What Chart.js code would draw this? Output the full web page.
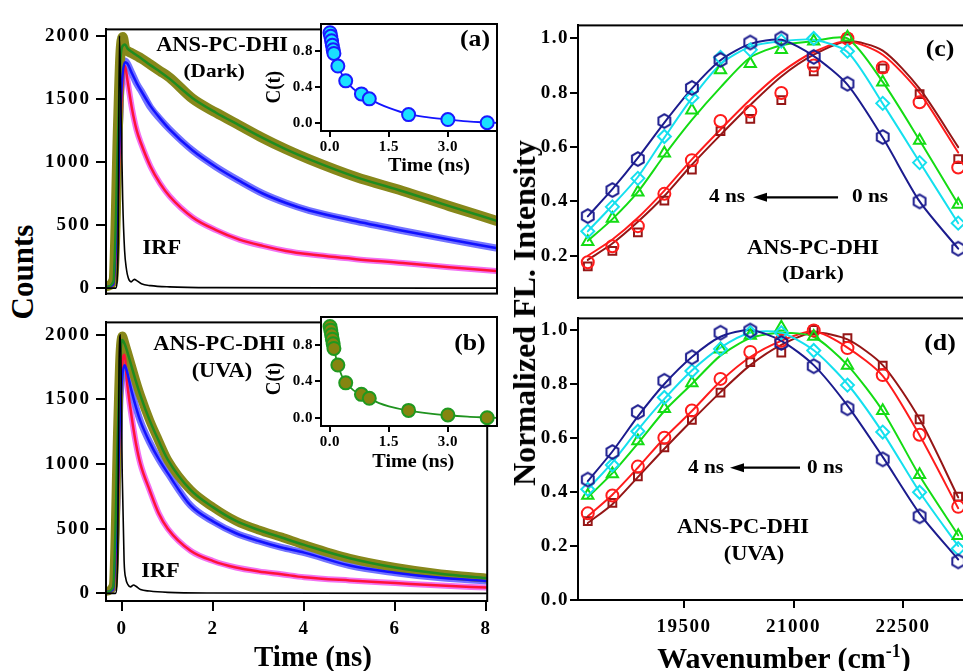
<!DOCTYPE html>
<html><head><meta charset="utf-8">
<script src="https://cdn.jsdelivr.net/npm/chart.js@4.4.1/dist/chart.umd.min.js"></script>
<style>
html,body{margin:0;padding:0;background:#fff;}
body{width:963px;height:671px;overflow:hidden;position:relative;}
canvas{position:absolute;}
.t{position:absolute;font-family:"Liberation Serif","Times New Roman",serif;font-weight:bold;color:#000;white-space:nowrap;line-height:1;transform:translate(-50%,-50%);}
.rot{transform:translate(-50%,-50%) rotate(-90deg);}
</style></head>
<body>
<canvas id="cA"></canvas><canvas id="cB"></canvas><canvas id="cC"></canvas><canvas id="cD"></canvas><canvas id="cIA"></canvas><canvas id="cIB"></canvas>
<div class="t rot" style="left:22px;top:272px;font-size:31px;">Counts</div>
<div class="t" style="left:313px;top:656px;font-size:29px;">Time (ns)</div>
<div class="t rot" style="left:524px;top:313px;font-size:32px;">Normalized FL. Intensity</div>
<div class="t" style="left:784px;top:657px;font-size:30px;">Wavenumber (cm<sup style="font-size:18px;">-1</sup>)</div>
<script>
// ---------------- data ----------------
const decayTime = [-0.36, -0.2, -0.1, -0.05, 0, 0.05, 0.1, 0.2, 0.3, 0.4, 0.6, 0.8, 1.0, 1.5, 2, 2.5, 3, 3.5, 4, 5, 6, 7, 8];
const oliveDark   = [15, 60, 1300, 1850, 1990, 1900, 1880, 1860, 1840, 1820, 1770, 1720, 1670, 1500, 1390, 1290, 1190, 1100, 1020, 880, 770, 650, 535];
const greenFitDark= [10, 50, 1200, 1800, 1920, 1930, 1900, 1870, 1845, 1820, 1765, 1715, 1660, 1505, 1390, 1290, 1190, 1100, 1020, 880, 768, 650, 535];
const blueDark    = [15, 40, 900, 1500, 1750, 1800, 1780, 1700, 1620, 1560, 1430, 1340, 1260, 1090, 960, 850, 750, 675, 615, 530, 455, 385, 318];
const blueFitDark = [10, 30, 800, 1400, 1700, 1790, 1780, 1700, 1625, 1560, 1440, 1345, 1260, 1090, 960, 850, 750, 675, 615, 530, 455, 385, 318];
const pinkDark    = [15, 40, 800, 1400, 1700, 1760, 1650, 1420, 1250, 1140, 960, 830, 730, 560, 460, 385, 335, 295, 268, 230, 200, 165, 136];
const redFitDark  = [10, 30, 700, 1300, 1650, 1760, 1650, 1420, 1250, 1140, 960, 830, 730, 560, 460, 385, 335, 295, 268, 230, 200, 165, 136];

const oliveUVA    = [15, 60, 1300, 1850, 1990, 1940, 1880, 1760, 1640, 1530, 1340, 1180, 1030, 800, 665, 560, 490, 435, 375, 270, 200, 150, 118];
const greenFitUVA = [10, 50, 1200, 1800, 1960, 1930, 1880, 1760, 1640, 1530, 1340, 1180, 1035, 800, 665, 560, 490, 432, 375, 272, 200, 152, 118];
const blueUVA     = [15, 40, 900, 1500, 1700, 1765, 1720, 1570, 1440, 1330, 1170, 1040, 930, 680, 555, 465, 405, 355, 315, 215, 160, 120, 95];
const blueFitUVA  = [10, 30, 800, 1400, 1680, 1765, 1720, 1570, 1440, 1330, 1170, 1040, 930, 680, 555, 465, 405, 355, 315, 215, 160, 120, 95];
const pinkUVA     = [15, 40, 800, 1500, 1800, 1845, 1650, 1380, 1160, 1000, 800, 620, 500, 330, 250, 200, 170, 148, 125, 100, 80, 60, 45];
const redFitUVA   = [10, 30, 700, 1400, 1780, 1845, 1650, 1380, 1160, 1000, 800, 620, 500, 330, 250, 200, 170, 148, 125, 100, 80, 60, 45];

const irfTime = [-0.36, -0.15, -0.1, -0.07, -0.04, 0, 0.04, 0.08, 0.12, 0.18, 0.25, 0.3, 0.4, 0.6, 1.0, 2.0, 8];
const irfDark = [0, 0, 300, 2000, 1500, 700, 300, 150, 80, 50, 70, 60, 35, 20, 10, 4, 0];
const irfUVA  = [0, 0, 300, 1800, 2000, 900, 250, 110, 70, 50, 65, 55, 30, 18, 8, 3, 0];

const solvTime = [0, 0.02, 0.04, 0.06, 0.08, 0.1, 0.2, 0.4, 0.8, 1.0, 2.0, 3.0, 4.0];
const ctDark = [1.0, 0.96, 0.91, 0.86, 0.81, 0.77, 0.63, 0.465, 0.32, 0.265, 0.09, 0.035, 0.0];
const ctUVA  = [1.0, 0.96, 0.91, 0.86, 0.81, 0.76, 0.577, 0.382, 0.256, 0.213, 0.08, 0.03, 0.0];
const ctFitTime = [0, 0.1, 0.2, 0.3, 0.4, 0.6, 0.8, 1.0, 1.25, 1.5, 2, 2.5, 3, 3.5, 4, 4.25];
const ctFitDark = [1.0, 0.78, 0.64, 0.54, 0.465, 0.375, 0.315, 0.265, 0.21, 0.165, 0.095, 0.06, 0.035, 0.015, 0.003, -0.002];
const ctFitUVA  = [1.0, 0.76, 0.58, 0.46, 0.385, 0.3, 0.25, 0.21, 0.16, 0.125, 0.078, 0.048, 0.027, 0.012, 0.002, -0.003];

const wavenumbers = [18182, 18519, 18868, 19231, 19608, 20000, 20408, 20833, 21277, 21739, 22222, 22727, 23256];
// panel (c) Dark : 0 ns ... 4 ns
const sqDark  = [0.161, 0.218, 0.286, 0.403, 0.517, 0.659, 0.704, 0.773, 0.879, 1.0, 0.89, 0.795, 0.556];
const ciDark  = [0.176, 0.235, 0.309, 0.428, 0.552, 0.696, 0.731, 0.799, 0.90, 1.0, 0.893, 0.765, 0.525];
const trDark  = [0.252, 0.337, 0.434, 0.577, 0.736, 0.884, 0.907, 0.958, 0.99, 1.004, 0.839, 0.624, 0.389];
const diDark  = [0.29, 0.38, 0.485, 0.639, 0.782, 0.93, 0.958, 0.99, 1.0, 0.953, 0.761, 0.543, 0.32];
const hxDark  = [0.346, 0.442, 0.556, 0.696, 0.818, 0.921, 0.985, 1.0, 0.932, 0.833, 0.637, 0.40, 0.226];
const sqFitDark = [0.185, 0.245, 0.325, 0.42, 0.535, 0.645, 0.755, 0.86, 0.94, 0.99, 0.955, 0.815, 0.60];
const ciFitDark = [0.20, 0.26, 0.34, 0.44, 0.555, 0.665, 0.775, 0.875, 0.95, 0.99, 0.94, 0.80, 0.58];
const trFitDark = [0.255, 0.335, 0.435, 0.57, 0.70, 0.82, 0.93, 0.975, 0.99, 1.0, 0.84, 0.625, 0.39];
const diFitDark = [0.29, 0.385, 0.49, 0.635, 0.78, 0.905, 0.97, 0.99, 0.995, 0.95, 0.76, 0.545, 0.32];
const hxFitDark = [0.345, 0.445, 0.56, 0.69, 0.815, 0.92, 0.98, 0.995, 0.935, 0.83, 0.635, 0.40, 0.226];
// panel (d) UVA
const sqUVA = [0.292, 0.36, 0.458, 0.565, 0.667, 0.768, 0.881, 0.916, 1.0, 0.97, 0.868, 0.669, 0.383];
const ciUVA = [0.321, 0.387, 0.494, 0.601, 0.702, 0.819, 0.919, 0.96, 0.998, 0.933, 0.833, 0.612, 0.345];
const trUVA = [0.387, 0.467, 0.589, 0.708, 0.804, 0.929, 0.98, 1.01, 0.976, 0.869, 0.701, 0.464, 0.238];
const diUVA = [0.41, 0.50, 0.625, 0.75, 0.848, 0.93, 0.99, 0.99, 0.924, 0.796, 0.622, 0.399, 0.19];
const hxUVA = [0.446, 0.548, 0.696, 0.812, 0.899, 0.990, 0.998, 0.952, 0.866, 0.71, 0.521, 0.31, 0.143];
const sqFitUVA = [0.285, 0.355, 0.455, 0.56, 0.665, 0.77, 0.87, 0.945, 0.99, 0.965, 0.87, 0.67, 0.38];
const ciFitUVA = [0.31, 0.39, 0.49, 0.60, 0.70, 0.81, 0.90, 0.96, 0.995, 0.935, 0.83, 0.61, 0.34];
const trFitUVA = [0.38, 0.47, 0.58, 0.70, 0.80, 0.905, 0.97, 0.99, 0.975, 0.87, 0.70, 0.46, 0.24];
const diFitUVA = [0.41, 0.51, 0.63, 0.745, 0.85, 0.935, 0.99, 0.99, 0.925, 0.80, 0.62, 0.40, 0.20];
const hxFitUVA = [0.44, 0.55, 0.68, 0.80, 0.90, 0.975, 1.0, 0.96, 0.87, 0.72, 0.53, 0.32, 0.15];

// tick labels
const countTicks = [0, 500, 1000, 1500, 2000];
const timeTicks = [0, 2, 4, 6, 8];
const insetTimeTicks = [0, 1.5, 3.0];
const insetCTicks = [0, 0.4, 0.8];
const intensityTicksC = [0.2, 0.4, 0.6, 0.8, 1.0];
const intensityTicksD = [0.0, 0.2, 0.4, 0.6, 0.8, 1.0];
const wavenumberTicks = [19500, 21000, 22500];

// ---------------- helpers ----------------
const FONT = '"Liberation Serif","Times New Roman",serif';
const C_DARKRED = '#951616', C_RED = '#ff1c1c', C_GREEN = '#14dc14', C_CYAN = '#15e0ee', C_NAVY = '#1c1c8e';

function hexImage(color, r) {
  const c = document.createElement('canvas');
  const s = Math.ceil(2 * r + 4); c.width = s; c.height = s;
  const g = c.getContext('2d'); g.strokeStyle = color; g.lineWidth = 2;
  g.beginPath();
  for (let i = 0; i < 6; i++) {
    const a = Math.PI / 2 + i * Math.PI / 3;
    const px = s / 2 + r * Math.cos(a), py = s / 2 - r * Math.sin(a);
    if (i) g.lineTo(px, py); else g.moveTo(px, py);
  }
  g.closePath(); g.stroke();
  return c;
}

const framePlugin = {
  id: 'frame',
  beforeUpdate(chart, args, o) { if (o.ls) chart.ctx.letterSpacing = o.ls; },
  beforeDraw(chart, args, o) {
    const { ctx, chartArea: a } = chart;
    if (o.ls) ctx.letterSpacing = o.ls;
    if (o.fill) { ctx.save(); ctx.fillStyle = '#fff'; ctx.fillRect(a.left, a.top, a.right - a.left, a.bottom - a.top); ctx.restore(); }
  },
  afterDraw(chart) {
    const { ctx, chartArea: a } = chart;
    ctx.save(); ctx.strokeStyle = '#000'; ctx.lineWidth = 2;
    ctx.strokeRect(a.left, a.top, a.right - a.left, a.bottom - a.top); ctx.restore();
  }
};

const notesPlugin = {
  id: 'notes',
  afterDraw(chart, args, o) {
    const { ctx } = chart; const xs = chart.scales.x, ys = chart.scales.y;
    (o.arrows || []).forEach(ar => {
      const x1 = xs.getPixelForValue(ar.from), x2 = xs.getPixelForValue(ar.to), py = ys.getPixelForValue(ar.y);
      ctx.save(); ctx.strokeStyle = '#000'; ctx.fillStyle = '#000'; ctx.lineWidth = 2.2;
      ctx.beginPath(); ctx.moveTo(x1, py); ctx.lineTo(x2 + 8, py); ctx.stroke();
      ctx.beginPath(); ctx.moveTo(x2, py); ctx.lineTo(x2 + 14, py - 4.5); ctx.lineTo(x2 + 14, py + 4.5); ctx.closePath(); ctx.fill();
      ctx.restore();
    });
    (o.items || []).forEach(it => {
      const px = xs.getPixelForValue(it.x), py = ys.getPixelForValue(it.y);
      ctx.save();
      ctx.letterSpacing = '0px';
      ctx.font = `bold ${it.size}px ${FONT}`;
      ctx.fillStyle = '#000'; ctx.textAlign = 'center'; ctx.textBaseline = 'middle';
      ctx.translate(px, py); ctx.scale(1.12, 1);
      if (it.rot) ctx.rotate(-Math.PI / 2);
      ctx.fillText(it.text, 0, 0);
      ctx.restore();
    });
  }
};

function axis(min, max, ticks, opt) {
  return {
    type: 'linear', min, max, display: opt.display !== false,
    afterBuildTicks: s => { s.ticks = ticks.map(v => ({ value: v })); },
    afterFit: s => { if (opt.size != null) { if (s.isHorizontal()) s.height = opt.size; else s.width = opt.size; } },
    grid: { display: true, drawOnChartArea: false, drawTicks: true, tickLength: opt.tl, color: '#000', lineWidth: 2 },
    border: { display: true, color: '#000', width: 2 },
    ticks: { display: opt.labels !== false, color: '#000', font: { family: FONT, size: opt.fs, weight: 'bold' },
             padding: opt.pad, maxRotation: 0, autoSkip: false, callback: opt.fmt },
    title: { display: false }
  };
}

function pts(xs, ys) { return xs.map((x, i) => ({ x, y: ys[i] })); }
function line(xs, ys, color, w, mode) {
  return { data: pts(xs, ys), showLine: true, borderColor: color, backgroundColor: color, borderWidth: w,
           pointRadius: 0, borderJoinStyle: 'round', borderCapStyle: 'round', fill: false,
           cubicInterpolationMode: mode === 'mono' ? 'monotone' : 'default', tension: mode === 'mono' ? 0 : 0.25 };
}
function marks(xs, ys, color, style, r, bg) {
  return { data: pts(xs, ys), showLine: false, pointStyle: style, pointRadius: r, pointHoverRadius: r,
           borderColor: color, pointBorderColor: color, pointBackgroundColor: bg || 'rgba(0,0,0,0)', pointBorderWidth: 2, borderWidth: 2 };
}

function make(id, box, datasets, scales, pad, plug) {
  const cv = document.getElementById(id);
  cv.width = box.w; cv.height = box.h;
  cv.style.left = box.l + 'px'; cv.style.top = box.t + 'px';
  cv.style.width = box.w + 'px'; cv.style.height = box.h + 'px';
  return new Chart(cv.getContext('2d'), {
    type: 'scatter',
    data: { datasets },
    options: {
      responsive: false, animation: false, events: [], devicePixelRatio: 1,
      layout: { autoPadding: false, padding: pad },
      scales,
      plugins: Object.assign({ legend: { display: false }, tooltip: { enabled: false } }, plug)
    },
    plugins: [framePlugin, notesPlugin]
  });
}

const fmt1 = v => Number(v).toFixed(1);
const fmt0 = v => String(v);

// ---------------- (a) ----------------
make('cA', { l: 40, t: 13, w: 459, h: 297 }, [
  line(irfTime, irfDark, '#000', 1.6, 'mono'),
  line(decayTime, greenFitDark, '#1f8c1f', 2.5, 'mono'),
  line(decayTime, blueFitDark, '#1212ff', 2.5, 'mono'),
  line(decayTime, redFitDark, '#ff1238', 2.5, 'mono'),
  line(decayTime, oliveDark, '#87871a', 10, 'mono'),
  line(decayTime, blueDark, '#7373ff', 7, 'mono'),
  line(decayTime, pinkDark, '#f272f2', 6, 'mono')
], {
  x: axis(-0.358, 8.021, timeTicks, { display: false, tl: 10, fs: 19, pad: 8, fmt: fmt0 }),
  y: axis(-43, 2050, countTicks, { size: 66, tl: 10, fs: 19, pad: 5, fmt: fmt0 })
}, { top: 2, right: 2, bottom: 2, left: 0 }, {
  frame: { ls: '2px' },
  notes: { items: [
    { text: 'ANS-PC-DHI', x: 2.13, y: 1921, size: 20 },
    { text: '(Dark)', x: 1.96, y: 1714, size: 19 },
    { text: 'IRF', x: 0.84, y: 314, size: 20 }
  ] }
});

// ---------------- (b) ----------------
make('cB', { l: 40, t: 306, w: 459, h: 340 }, [
  line(irfTime, irfUVA, '#000', 1.6, 'mono'),
  line(decayTime, greenFitUVA, '#1f8c1f', 2.5, 'mono'),
  line(decayTime, blueFitUVA, '#1212ff', 2.5, 'mono'),
  line(decayTime, redFitUVA, '#ff1238', 2.5, 'mono'),
  line(decayTime, oliveUVA, '#87871a', 9, 'mono'),
  line(decayTime, blueUVA, '#7373ff', 7, 'mono'),
  line(decayTime, pinkUVA, '#f272f2', 6, 'mono')
], {
  x: axis(-0.358, 8.021, timeTicks, { size: 45, tl: 10, fs: 19, pad: 7, fmt: fmt0 }),
  y: axis(-59, 2096, countTicks, { size: 66, tl: 10, fs: 19, pad: 5, fmt: fmt0 })
}, { top: 2, right: 2, bottom: 0, left: 0 }, {
  frame: { ls: '2px' },
  notes: { items: [
    { text: 'ANS-PC-DHI', x: 2.13, y: 1926, size: 20 },
    { text: '(UVA)', x: 2.19, y: 1713, size: 20 },
    { text: 'IRF', x: 0.84, y: 169, size: 20 }
  ] }
});

// ---------------- inset (a) ----------------
make('cIA', { l: 261, t: 13, w: 238, h: 170 }, [
  marks(solvTime, ctDark, '#1a1aff', 'circle', 6.5, '#1ae0ff'),
  line(ctFitTime, ctFitDark, '#1414ff', 1.8, 'mono')
], {
  x: axis(-0.229, 4.25, insetTimeTicks, { size: 52, tl: 6, fs: 15, pad: 1, fmt: fmt1 }),
  y: axis(-0.092, 1.097, insetCTicks, { size: 60, tl: 6, fs: 15, pad: 2, fmt: fmt1 })
}, { top: 2, right: 2, bottom: 0, left: 0 }, {
  frame: { ls: '0.5px', fill: true },
  notes: { items: [
    { text: '(a)', x: 3.69, y: 0.913, size: 23 },
    { text: 'Time (ns)', x: 2.52, y: -0.49, size: 18 },
    { text: 'C(t)', x: -1.4, y: 0.395, size: 19, rot: true }
  ] }
});

// ---------------- inset (b) ----------------
make('cIB', { l: 261, t: 306, w: 238, h: 172 }, [
  marks(solvTime, ctUVA, '#1f991f', 'circle', 6.5, '#858510'),
  line(ctFitTime, ctFitUVA, '#1f931f', 1.8, 'mono')
], {
  x: axis(-0.229, 4.25, insetTimeTicks, { size: 52, tl: 6, fs: 15, pad: 1, fmt: fmt1 }),
  y: axis(-0.091, 1.104, insetCTicks, { size: 60, tl: 6, fs: 15, pad: 2, fmt: fmt1 })
}, { top: 2, right: 2, bottom: 0, left: 0 }, {
  frame: { ls: '0.5px', fill: true },
  notes: { items: [
    { text: '(b)', x: 3.56, y: 0.81, size: 23 },
    { text: 'Time (ns)', x: 2.12, y: -0.486, size: 18 },
    { text: 'C(t)', x: -1.4, y: 0.425, size: 19, rot: true }
  ] }
});

// ---------------- (c) ----------------
const hexNavy = hexImage(C_NAVY, 6.8);
make('cC', { l: 516, t: 13, w: 459, h: 297 }, [
  marks(wavenumbers, hxDark, C_NAVY, hexNavy, 6.5),
  marks(wavenumbers, diDark, C_CYAN, 'rectRot', 6.5),
  marks(wavenumbers, trDark, C_GREEN, 'triangle', 6.5),
  marks(wavenumbers, ciDark, C_RED, 'circle', 6),
  marks(wavenumbers, sqDark, C_DARKRED, 'rect', 5.5),
  line(wavenumbers, hxFitDark, C_NAVY, 2),
  line(wavenumbers, diFitDark, C_CYAN, 2),
  line(wavenumbers, trFitDark, C_GREEN, 2),
  line(wavenumbers, ciFitDark, C_RED, 2),
  line(wavenumbers, sqFitDark, C_DARKRED, 2)
], {
  x: axis(18048, 23486, wavenumberTicks, { display: false, tl: 8, fs: 19, pad: 9, fmt: fmt0 }),
  y: axis(0.046, 1.048, intensityTicksC, { size: 62, tl: 8, fs: 19, pad: 1, fmt: fmt1 })
}, { top: 2, right: 0, bottom: 2, left: 0 }, {
  frame: { ls: '1.5px' },
  notes: {
    items: [
      { text: '(c)', x: 23007, y: 0.956, size: 23 },
      { text: '4 ns', x: 20089, y: 0.415, size: 19 },
      { text: '0 ns', x: 22048, y: 0.415, size: 19 },
      { text: 'ANS-PC-DHI', x: 21267, y: 0.227, size: 20 },
      { text: '(Dark)', x: 21267, y: 0.132, size: 19 }
    ],
    arrows: [{ from: 21610, to: 20445, y: 0.415 }]
  }
});

// ---------------- (d) ----------------
make('cD', { l: 516, t: 306, w: 459, h: 339 }, [
  marks(wavenumbers, hxUVA, C_NAVY, hexNavy, 6.5),
  marks(wavenumbers, diUVA, C_CYAN, 'rectRot', 6.5),
  marks(wavenumbers, trUVA, C_GREEN, 'triangle', 6.5),
  marks(wavenumbers, ciUVA, C_RED, 'circle', 6),
  marks(wavenumbers, sqUVA, C_DARKRED, 'rect', 5.5),
  line(wavenumbers, hxFitUVA, C_NAVY, 2),
  line(wavenumbers, diFitUVA, C_CYAN, 2),
  line(wavenumbers, trFitUVA, C_GREEN, 2),
  line(wavenumbers, ciFitUVA, C_RED, 2),
  line(wavenumbers, sqFitUVA, C_DARKRED, 2)
], {
  x: axis(18048, 23486, wavenumberTicks, { size: 45, tl: 8, fs: 19, pad: 8, fmt: fmt0 }),
  y: axis(0, 1.043, intensityTicksD, { size: 62, tl: 8, fs: 19, pad: 1, fmt: fmt1 })
}, { top: 2, right: 0, bottom: 0, left: 0 }, {
  frame: { ls: '1.5px' },
  notes: {
    items: [
      { text: '(d)', x: 23007, y: 0.949, size: 23 },
      { text: '4 ns', x: 19801, y: 0.49, size: 19 },
      { text: '0 ns', x: 21432, y: 0.49, size: 19 },
      { text: 'ANS-PC-DHI', x: 20308, y: 0.269, size: 20 },
      { text: '(UVA)', x: 20459, y: 0.168, size: 20 }
    ],
    arrows: [{ from: 21089, to: 20130, y: 0.49 }]
  }
});
</script>
</body></html>
